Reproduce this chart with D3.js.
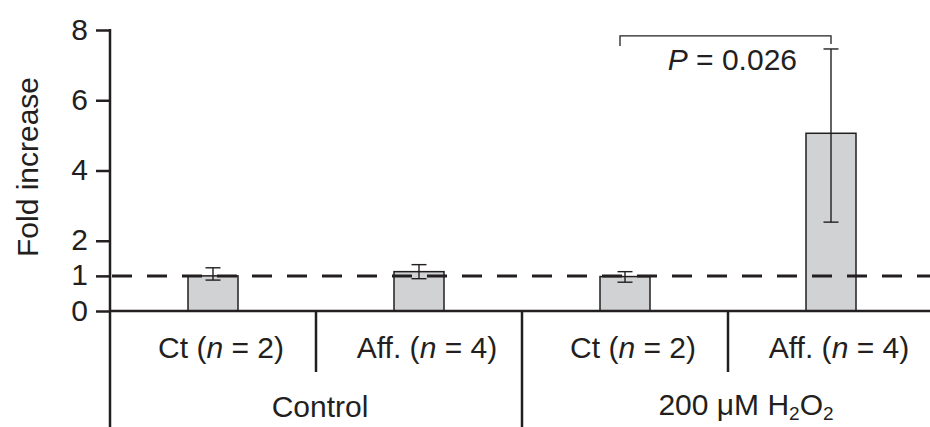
<!DOCTYPE html>
<html>
<head>
<meta charset="utf-8">
<script src="https://cdn.jsdelivr.net/npm/d3@7"></script>
<style>
  body { margin: 0; background: #fff; }
  svg { display: block; }
  text { font-family: "Liberation Sans", Arial, Helvetica, sans-serif; fill: #231f20; }
</style>
</head>
<body>
<svg id="chart" width="930" height="427"></svg>
<script>
// Fold increase per sample group, with error bar limits
const categories = ["Ct-Control", "Aff-Control", "Ct-H2O2", "Aff-H2O2"];
const categoryNames = ["Ct", "Aff.", "Ct", "Aff."];
const sampleSizes = [2, 4, 2, 4];
const values = [1.0, 1.12, 0.98, 5.06];
const errLow = [0.88, 0.92, 0.82, 2.53];
const errHigh = [1.23, 1.32, 1.12, 7.46];
const yTicks = [0, 1, 2, 4, 6, 8];
const referenceLevel = 1;
const pValue = "0.026";

const ink = "#231f20";
const svg = d3.select("#chart");
const W = 930, H = 427;

const x = d3.scaleBand().domain(categories).range([110, 934]).padding(0);
const y = d3.scaleLinear().domain([0, 8]).range([311, 30]);
const barW = 50;
const cx = c => x(c) + x.bandwidth() / 2;

const rows = categories.map((c, i) => ({
  c, name: categoryNames[i], n: sampleSizes[i],
  v: values[i], lo: errLow[i], hi: errHigh[i]
}));

// Bars
svg.append("g").selectAll("rect").data(rows).join("rect")
  .attr("x", d => cx(d.c) - barW / 2)
  .attr("y", d => y(d.v))
  .attr("width", barW)
  .attr("height", d => y(0) - y(d.v))
  .attr("fill", "#d1d2d4")
  .attr("stroke", ink)
  .attr("stroke-width", 1.5);

// Error bars
const eb = svg.append("g").attr("stroke", ink).attr("stroke-width", 1.4);
rows.forEach(d => {
  eb.append("line").attr("x1", cx(d.c)).attr("x2", cx(d.c)).attr("y1", y(d.lo)).attr("y2", y(d.hi));
  [d.lo, d.hi].forEach(v => {
    eb.append("line").attr("x1", cx(d.c) - 7.5).attr("x2", cx(d.c) + 7.5).attr("y1", y(v)).attr("y2", y(v));
  });
});

// Reference line at fold = 1
svg.append("line")
  .attr("x1", 112).attr("x2", W)
  .attr("y1", y(referenceLevel)).attr("y2", y(referenceLevel))
  .attr("stroke", ink).attr("stroke-width", 3)
  .attr("stroke-dasharray", "20 15");

// Y axis
const yAxis = svg.append("g").attr("transform", "translate(110,0)")
  .call(d3.axisLeft(y).tickValues(yTicks).tickSize(14).tickSizeOuter(0).tickPadding(8));
yAxis.select(".domain").remove();
yAxis.selectAll(".tick line").attr("stroke", ink).attr("stroke-width", 2.5);
yAxis.selectAll(".tick text")
  .attr("font-size", 30).attr("fill", ink)
  .attr("font-family", "'Liberation Sans', Arial, sans-serif")
  .attr("dy", "0.3em");
svg.append("line").attr("x1", 110).attr("x2", 110).attr("y1", y(8) - 1).attr("y2", H)
  .attr("stroke", ink).attr("stroke-width", 2.5);

// Baseline
svg.append("line").attr("x1", 110).attr("x2", W).attr("y1", y(0)).attr("y2", y(0))
  .attr("stroke", ink).attr("stroke-width", 2.5);

// Category dividers below the baseline
[["Aff-Control", 372], ["Ct-H2O2", H], ["Aff-H2O2", 372]].forEach(([c, yb]) => {
  svg.append("line").attr("x1", x(c)).attr("x2", x(c)).attr("y1", y(0)).attr("y2", yb)
    .attr("stroke", ink).attr("stroke-width", 2.5);
});

// Category labels
rows.forEach(d => {
  const t = svg.append("text").attr("x", cx(d.c) + 8).attr("y", 358)
    .attr("text-anchor", "middle").attr("font-size", 30);
  t.append("tspan").text(d.name + " (");
  t.append("tspan").attr("font-style", "italic").text("n");
  t.append("tspan").text(" = " + d.n + ")");
});

// Group labels
svg.append("text").attr("x", (110 + x("Ct-H2O2")) / 2 + 4).attr("y", 417)
  .attr("text-anchor", "middle").attr("font-size", 30).text("Control");
const g2 = svg.append("text").attr("x", (x("Ct-H2O2") + 934) / 2 + 18).attr("y", 415)
  .attr("text-anchor", "middle").attr("font-size", 30);
g2.append("tspan").text("200 μM H");
g2.append("tspan").attr("font-size", 19).attr("dy", 5).text("2");
g2.append("tspan").attr("dy", -5).text("O");
g2.append("tspan").attr("font-size", 19).attr("dy", 5).text("2");

// Y axis title
svg.append("text")
  .attr("transform", `translate(38,${y(4.1)}) rotate(-90)`)
  .attr("text-anchor", "middle").attr("font-size", 30)
  .text("Fold increase");

// Significance bracket
const bl = cx("Ct-H2O2") - 5, br = cx("Aff-H2O2");
const by = y(errHigh[3]) - 13;
svg.append("path")
  .attr("d", `M${bl},${by + 10}V${by}H${br}V${by + 8}`)
  .attr("fill", "none").attr("stroke", ink).attr("stroke-width", 1.3);
const pt = svg.append("text").attr("x", br - 34).attr("y", 70)
  .attr("text-anchor", "end").attr("font-size", 30);
pt.append("tspan").attr("font-style", "italic").text("P");
pt.append("tspan").text(" = " + pValue);
</script>
</body>
</html>
